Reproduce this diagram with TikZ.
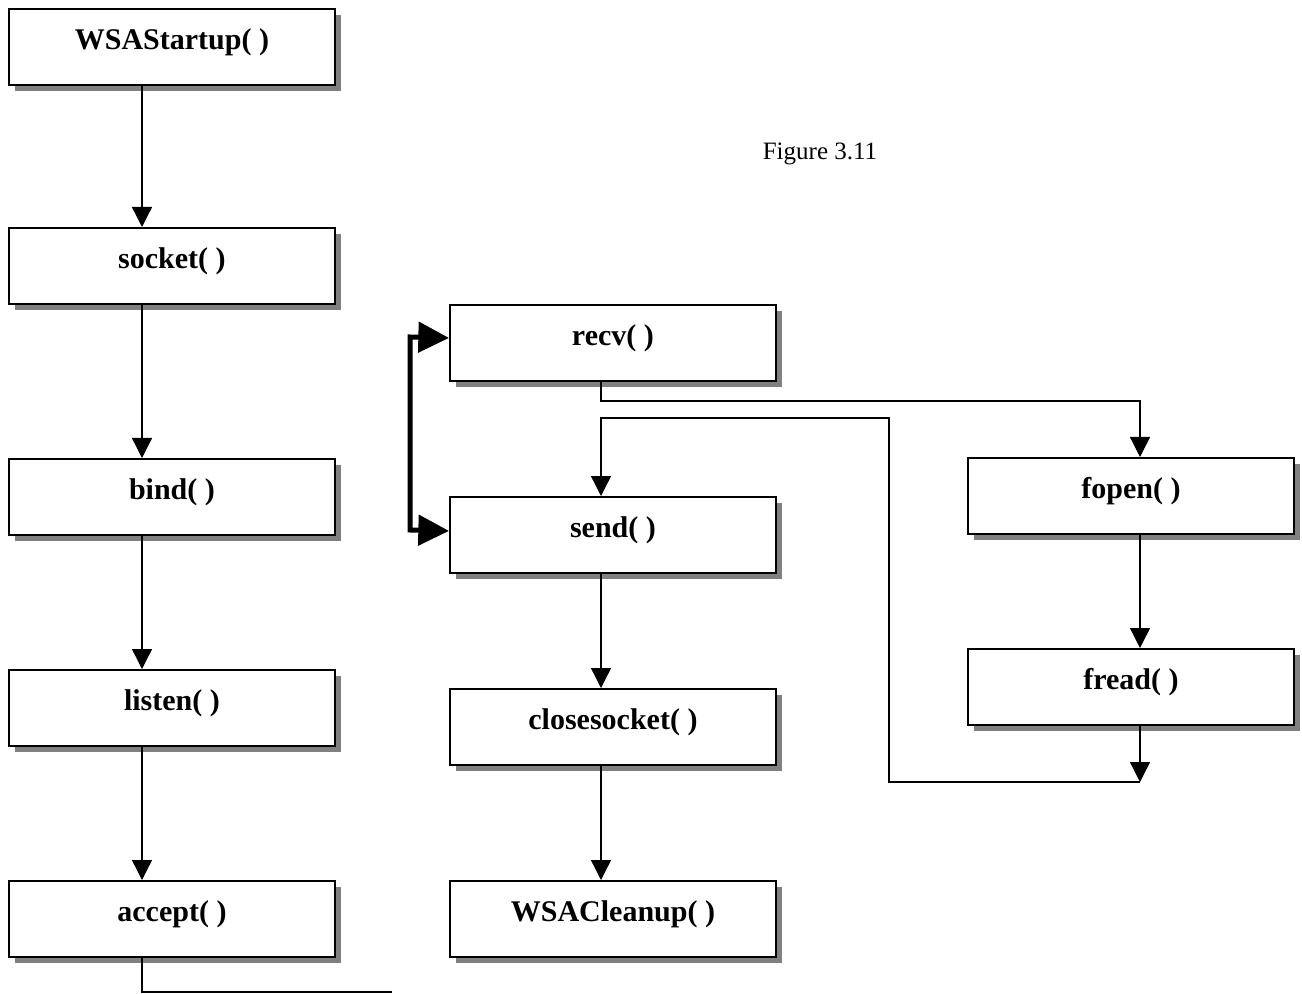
\documentclass[tikz,border=0pt]{standalone}
\usepackage{fontspec}
\setmainfont{Liberation Serif}
\usetikzlibrary{arrows.meta,shadows,calc}
\begin{document}
\begin{tikzpicture}[x=0.75pt,y=-0.75pt,
  fbox/.style={draw, line width=1.4pt, fill=white, minimum width=244.5pt, minimum height=57pt,
    inner sep=0pt, anchor=north west, text height=12pt, text depth=7.5pt,
    font=\fontsize{22.5}{27}\selectfont\bfseries,
    drop shadow={shadow xshift=4.5pt, shadow yshift=-4.5pt, fill=gray, opacity=1}},
  conn/.style={draw, line width=1pt},
  arr/.style={conn, -{Triangle[length=15pt,width=15pt]}},
  bigarr/.style={draw, line width=3.75pt, line join=miter,
    {Triangle[length=23pt,width=22.5pt]}-{Triangle[length=23pt,width=22.5pt]}}
]
\useasboundingbox (0,0) rectangle (1302,994);
% columns
\coordinate (colA) at (142,0);
\coordinate (colB) at (601,0);
\coordinate (colC) at (1140,0);
% left column
\node[fbox] (wsa)  at (8,8)   {WSAStartup( )};
\node[fbox] (sock) at (8,227) {socket( )};
\node[fbox] (bind) at (8,458) {bind( )};
\node[fbox] (lis)  at (8,669) {listen( )};
\node[fbox] (acc)  at (8,880) {accept( )};
% middle column
\node[fbox] (recv) at (449,304) {recv( )};
\node[fbox] (send) at (449,496) {send( )};
\node[fbox] (close) at (449,688) {closesocket( )};
\node[fbox] (clean) at (449,880) {WSACleanup( )};
% right column
\node[fbox] (fopen) at (967,457) {fopen( )};
\node[fbox] (fread) at (967,648) {fread( )};
% caption
\node[font=\fontsize{18.75}{22}\selectfont] (cap) at (820,154) {Figure 3.11};
% connectors left
\draw[arr] (wsa.south -| colA) -- (sock.north -| colA);
\draw[arr] (sock.south -| colA) -- (bind.north -| colA);
\draw[arr] (bind.south -| colA) -- (lis.north -| colA);
\draw[arr] (lis.south -| colA) -- (acc.north -| colA);
\coordinate (accend) at (392,992);
\draw[conn] (acc.south -| colA) |- (accend);
% middle
\draw[arr] (send.south -| colB) -- (close.north -| colB);
\draw[arr] (close.south -| colB) -- (clean.north -| colB);
% recv -> fopen
\draw[arr] (recv.south -| colB) -- ++(0,19) -| (fopen.north -| colC);
\draw[arr] (fopen.south -| colC) -- (fread.north -| colC);
% fread -> loop back to send
\coordinate (loop) at (1140,782);
\draw[arr] (fread.south -| colC) -- (loop);
\draw[arr] (loop) -| (889,418) -| (send.north -| colB);
% bracket
\draw[bigarr] ($(recv.west)+(0,-5)$) -- (410,337) -- (410,530) -- ($(send.west)+(0,-4)$);
\end{tikzpicture}
\end{document}
